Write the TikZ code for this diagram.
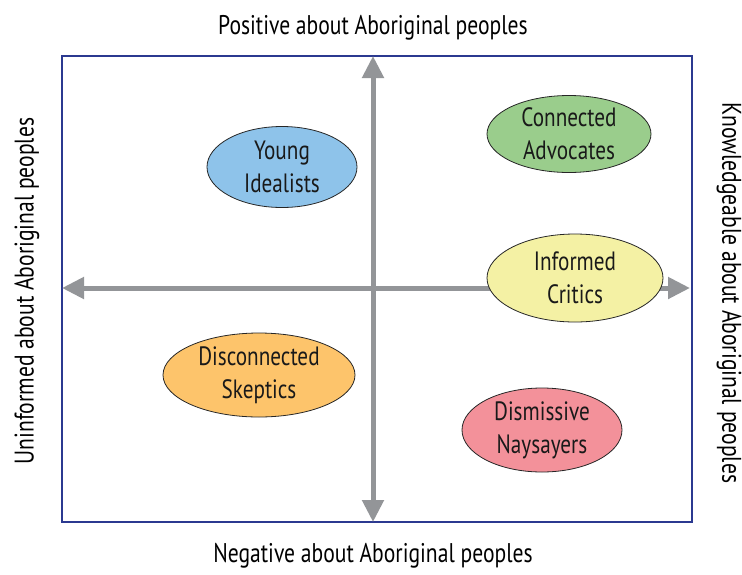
\documentclass[tikz,border=0pt]{standalone}
\usepackage{fontspec}
\setmainfont[FakeStretch=0.8]{PT Sans}
\usetikzlibrary{arrows.meta,shapes.geometric}

\definecolor{frameblue}{HTML}{2B3990}
\definecolor{axisgray}{HTML}{939598}
\definecolor{idealblue}{HTML}{8EC3EA}
\definecolor{advgreen}{HTML}{9ACD8C}
\definecolor{criticyellow}{HTML}{F4F1A4}
\definecolor{skeporange}{HTML}{FDC46B}
\definecolor{naypink}{HTML}{F3919A}

\tikzset{
	group/.style = {ellipse, draw = black!85, line width = 0.8pt, align = center,
		inner sep = 0pt, text = black!90, font = \fontsize{26.5}{33}\selectfont},
	axis/.style = {draw = axisgray, line width = 5pt,
		{Triangle[width = 21pt, length = 22pt]}-{Triangle[width = 21pt, length = 22pt]}},
	side/.style = {font = \fontsize{27}{30}\selectfont}
}

\begin{document}
\begin{tikzpicture} [x = 1pt, y = -1pt]
	\useasboundingbox (0,0) rectangle (742,574);
	\draw [frameblue, line width = 1.3pt] (62,56) rectangle (692,522);
	% axes
	\coordinate (west) at (62,288);
	\coordinate (east) at (690,288);
	\coordinate (north) at (373,56);
	\coordinate (south) at (373,522);
	\draw [axis] (west) -- (east);
	\draw [axis] (south) -- (north);
	% side labels
	\node [side] (pos) at (373,28) {Positive about Aboriginal peoples};
	\node [side] (neg) at (373,556) {Negative about Aboriginal peoples};
	\node [side, rotate = 90] (uninf) at (27,291) {Uninformed about Aboriginal peoples};
	\node [side, rotate = -90] (knowl) at (729,293) {Knowledgeable about Aboriginal peoples};
	% groups
	\node [group, fill = idealblue, minimum width = 150pt, minimum height = 81pt] (idealists) at (282,167) {Young\\Idealists};
	\node [group, fill = advgreen, minimum width = 164pt, minimum height = 77pt] (advocates) at (569,134) {Connected\\Advocates};
	\node [group, fill = criticyellow, minimum width = 176pt, minimum height = 88pt] (critics) at (575,278) {Informed\\Critics};
	\node [group, fill = skeporange, minimum width = 192pt, minimum height = 84pt] (skeptics) at (259,375) {Disconnected\\Skeptics};
	\node [group, fill = naypink, minimum width = 160pt, minimum height = 84pt] (naysayers) at (542,430) {Dismissive\\Naysayers};
\end{tikzpicture}
\end{document}
